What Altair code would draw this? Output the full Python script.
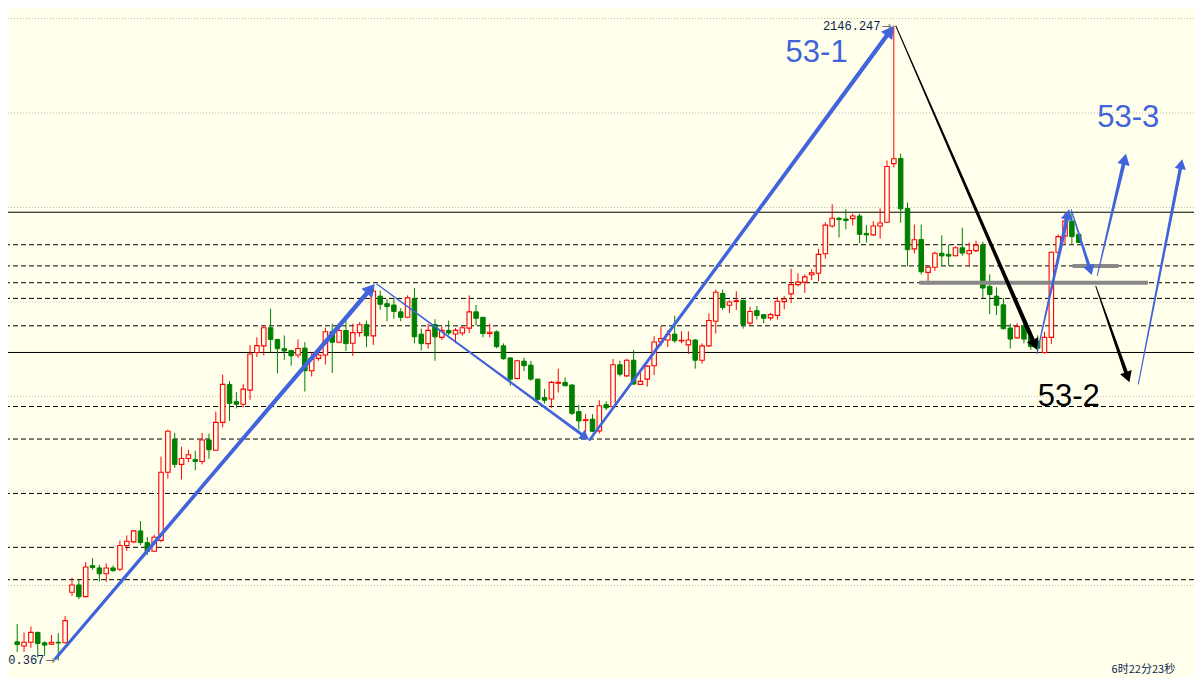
import altair as alt
import pandas as pd
import numpy as np

# ---------------- data ----------------
OPEN = [1820.2, 1818.0, 1820.0, 1825.2, 1819.7, 1819.0, 1820.0, 1819.7, 1846.4, 1850.3,
        1844.1, 1860.5, 1859.3, 1856.2, 1859.3, 1858.6, 1871.2, 1873.1, 1878.9, 1872.7,
        1868.1, 1873.9, 1909.9, 1927.3, 1914.1, 1917.2, 1916.7, 1915.6, 1927.0, 1921.6,
        1936.3, 1956.4, 1947.3, 1945.9, 1953.4, 1973.3, 1976.8, 1986.4, 1980.2, 1975.3,
        1974.3, 1972.0, 1975.6, 1963.6, 1970.2, 1972.0, 1984.3, 1978.7, 1984.9, 1978.2,
        1983.8, 1988.0, 1982.1, 2003.1, 1999.1, 1998.4, 1994.8, 1991.9, 2001.9, 1983.0,
        1978.0, 1988.1, 1981.3, 1985.0, 1983.1, 1983.6, 1986.2, 1994.8, 1991.9, 1983.3,
        1984.2, 1976.8, 1970.4, 1959.5, 1968.7, 1966.6, 1959.2, 1949.4, 1948.7, 1957.0,
        1957.5, 1956.1, 1942.0, 1937.3, 1938.0, 1931.8, 1945.7, 1944.6, 1966.8, 1960.9,
        1969.2, 1956.4, 1959.2, 1966.3, 1979.0, 1979.9, 1983.0, 1979.4, 1977.3, 1979.9,
        1969.2, 1976.8, 1989.8, 2004.5, 1998.3, 2000.3, 2000.9, 1988.8, 1995.4, 1993.3,
        1991.6, 1992.9, 2000.2, 2004.3, 2009.2, 2010.5, 2014.4, 2015.2, 2025.5, 2040.2,
        2044.3, 2043.9, 2044.1, 2045.5, 2036.3, 2035.5, 2040.2, 2042.2, 2073.2, 2075.9,
        2049.5, 2028.1, 2033.1, 2015.7, 2018.4, 2025.8, 2025.2, 2024.5, 2028.7, 2025.5,
        2027.2, 2030.1, 2008.3, 2003.1, 1998.5, 1986.2, 1981.0, 1987.1, 1981.6, 1979.3,
        1973.3, 1981.3, 2026.3, 2035.0, 2042.8, 2035.8]
HIGH = [1829.6, 1825.2, 1828.3, 1825.6, 1820.5, 1823.8, 1824.8, 1833.8, 1854.1, 1852.9,
        1862.4, 1864.5, 1861.0, 1861.7, 1860.6, 1873.8, 1876.5, 1879.2, 1884.1, 1875.6,
        1876.9, 1918.2, 1932.5, 1930.8, 1923.4, 1921.8, 1921.3, 1930.8, 1930.4, 1942.0,
        1961.6, 1958.2, 1952.3, 1956.6, 1977.1, 1981.3, 1987.6, 1996.4, 1980.5, 1982.3,
        1974.7, 1980.2, 1978.8, 1973.3, 1973.3, 1986.4, 1988.5, 1986.4, 1990.6, 1988.5,
        1989.3, 1990.2, 2007.4, 2006.1, 2001.7, 2001.7, 1996.8, 2003.5, 2007.4, 1985.9,
        1988.5, 1990.9, 1987.1, 1990.2, 1986.2, 1987.1, 2003.5, 1998.5, 1992.2, 1988.5,
        1985.0, 1978.1, 1970.7, 1969.4, 1970.5, 1968.9, 1959.5, 1954.0, 1958.2, 1964.7,
        1960.1, 1956.4, 1945.7, 1940.7, 1940.6, 1948.0, 1947.5, 1969.9, 1968.9, 1969.9,
        1974.7, 1962.7, 1966.6, 1981.9, 1987.1, 1985.0, 1992.8, 1984.5, 1984.5, 1980.4,
        1978.1, 1994.0, 2006.6, 2006.6, 2000.9, 2005.7, 2001.2, 1997.4, 1997.9, 1993.5,
        1994.2, 2002.6, 2003.1, 2017.6, 2015.2, 2014.6, 2017.4, 2028.1, 2042.2, 2051.7,
        2045.0, 2049.1, 2046.7, 2046.7, 2040.7, 2042.8, 2049.5, 2074.9, 2146.247, 2078.5,
        2052.6, 2041.0, 2041.0, 2019.1, 2026.7, 2035.3, 2030.2, 2029.5, 2039.3, 2031.5,
        2032.4, 2031.9, 2014.6, 2007.8, 2002.2, 1988.5, 1988.8, 1988.8, 1984.5, 1982.4,
        1984.2, 2026.7, 2035.8, 2047.0, 2047.9, 2036.1]
LOW = [1814.9, 1814.9, 1817.1, 1811.9, 1812.8, 1818.5, 1810.367, 1819.3, 1844.6, 1842.8,
       1843.8, 1858.3, 1852.1, 1851.9, 1857.2, 1857.6, 1868.4, 1872.5, 1871.4, 1866.3,
       1867.8, 1872.9, 1906.6, 1912.3, 1906.1, 1915.3, 1911.0, 1914.1, 1917.0, 1921.3,
       1933.7, 1937.1, 1943.7, 1944.2, 1948.3, 1970.9, 1971.7, 1973.3, 1962.4, 1969.4,
       1966.3, 1970.4, 1952.6, 1960.6, 1968.9, 1966.9, 1962.4, 1978.1, 1974.1, 1971.5,
       1981.6, 1976.1, 1977.3, 1995.9, 1989.8, 1991.1, 1989.8, 1991.4, 1978.2, 1974.3,
       1975.3, 1968.9, 1979.9, 1982.4, 1978.2, 1982.2, 1983.6, 1987.6, 1981.3, 1981.3,
       1975.6, 1969.5, 1955.7, 1959.0, 1963.5, 1958.3, 1947.1, 1946.3, 1944.0, 1952.2,
       1955.4, 1940.2, 1932.5, 1931.3, 1931.1, 1930.4, 1942.8, 1944.0, 1960.6, 1960.4,
       1956.1, 1956.2, 1955.2, 1961.3, 1976.8, 1976.2, 1978.5, 1978.2, 1972.5, 1964.7,
       1967.4, 1976.4, 1983.3, 1995.8, 1994.2, 1995.8, 1985.9, 1987.6, 1990.7, 1988.8,
       1990.2, 1990.7, 1996.2, 1999.5, 2008.3, 2004.8, 2011.6, 2010.9, 2022.9, 2039.3,
       2034.1, 2038.4, 2040.5, 2031.2, 2031.5, 2035.0, 2033.5, 2041.9, 2071.2, 2041.9,
       2018.8, 2025.7, 2014.6, 2009.2, 2016.4, 2019.1, 2019.1, 2024.1, 2024.5, 2018.8,
       2026.4, 2002.2, 1993.6, 1993.1, 1985.4, 1975.3, 1980.7, 1978.1, 1974.7, 1973.3,
       1972.6, 1977.9, 2020.8, 2030.7, 2030.7, 2031.2]
CLOSE = [1818.8, 1820.0, 1825.2, 1819.3, 1818.5, 1820.0, 1819.6, 1831.4, 1850.3, 1844.1,
         1859.8, 1859.5, 1856.2, 1859.3, 1857.9, 1871.2, 1873.4, 1878.9, 1872.7, 1868.1,
         1875.5, 1909.9, 1931.6, 1914.1, 1917.2, 1919.2, 1915.6, 1927.0, 1921.8, 1936.3,
         1956.4, 1946.4, 1945.9, 1953.9, 1972.5, 1976.9, 1986.4, 1980.2, 1975.3, 1974.1,
         1971.5, 1975.4, 1963.6, 1969.9, 1972.0, 1984.3, 1978.7, 1984.9, 1978.0, 1983.8,
         1988.0, 1982.1, 2005.7, 1998.8, 1997.6, 1995.0, 1991.9, 2002.2, 1981.6, 1978.0,
         1985.0, 1981.6, 1985.0, 1983.6, 1985.0, 1986.4, 1994.8, 1991.4, 1983.3, 1984.0,
         1976.4, 1970.0, 1959.2, 1968.9, 1966.3, 1959.2, 1948.5, 1948.0, 1957.5, 1957.5,
         1955.7, 1941.1, 1937.1, 1937.7, 1931.6, 1945.1, 1944.0, 1966.8, 1961.8, 1969.2,
         1956.6, 1958.0, 1966.1, 1978.8, 1980.7, 1982.8, 1979.5, 1979.7, 1979.9, 1969.2,
         1976.8, 1990.2, 2005.2, 1997.1, 2000.0, 2000.7, 1988.1, 1995.0, 1992.9, 1991.4,
         1993.3, 2000.4, 2001.6, 2009.2, 2010.5, 2013.3, 2015.4, 2025.2, 2040.7, 2044.3,
         2043.6, 2043.1, 2045.5, 2035.8, 2035.5, 2040.2, 2041.8, 2071.7, 2075.8, 2049.3,
         2027.7, 2032.9, 2016.0, 2018.4, 2025.8, 2024.4, 2024.3, 2028.7, 2025.9, 2027.2,
         2030.1, 2007.4, 2004.0, 1998.3, 1985.9, 1980.4, 1987.1, 1980.4, 1976.4, 1975.6,
         1981.3, 2026.3, 2034.6, 2042.8, 2034.6, 2031.5]

GRID_LEVELS = [2150, 2100, 2050, 2000, 1950, 1900, 1850]
SOLID_LEVELS = [2047.5, 1973.3]
DASHED_LEVELS = [2030.3, 2019.1, 2010.2, 2001.9, 1987.4, 1944.7, 1927.5, 1898.7, 1870.2, 1853.1]

ZONE_X0 = [131.7, 154.1]
ZONE_X1 = [165.1, 160.8]
ZONE_Y = [2010.2, 2019.0]

ARROW_X0 = [5.6, 52.5, 83.6, 128.3, 148.9, 153.9, 157.7, 157.5, 163.7]
ARROW_Y0 = [1811.4, 2009.5, 1927.1, 2146.0, 1972.7, 2049.0, 2014.0, 2008.3, 1956.6]
ARROW_X1 = [52.2, 83.5, 128.0, 148.9, 153.6, 156.9, 161.9, 162.4, 170.1]
ARROW_Y1 = [2009.5, 1927.1, 2146.0, 1974.7, 2049.1, 2014.3, 2078.4, 1957.6, 2075.5]
ARROW_KIND = ["blue", "blue", "blue", "black", "blue", "blue", "blue", "black", "blue"]

WAVE_LABELS = ["53-1", "53-3", "53-2"]
WAVE_X = [112.2, 157.7, 149.0]
WAVE_Y = [2127.2, 2092.5, 1945.2]
WAVE_KIND = ["blue", "blue", "black"]

PRICE_LABELS = ["2146.247", "1810.367"]
PRICE_X = [126.2, 4.1]
PRICE_Y = [2146.247, 1810.367]

CLOCK_TEXT = "6时22分23秒"
CLOCK_X = 159.8
CLOCK_Y = 1808.5

# ---------------- style ----------------
BG = "#FFFFEB"
RED = "#FF0000"
GREEN = "#008000"
BLUE = "#4163DB"
W, H = 1186, 670
XDOM = [-0.614, 171.1]
YDOM = [1801.07, 2155.55]
COLORS = {"blue": BLUE, "black": "#000000"}
ARROW_W0 = [3.0, 1.2, 2.5, 1.0, 1.0, 1.0, 1.0, 1.0, 1.0]
ARROW_W1 = [4.5, 3.0, 4.5, 4.5, 4.0, 3.5, 4.0, 4.0, 3.5]
HEAD_SIZE = [200, 120, 200, 160, 150, 130, 160, 150, 130]

xs = alt.Scale(domain=XDOM, nice=False, zero=False)
ys = alt.Scale(domain=YDOM, nice=False, zero=False)
sx = W / (XDOM[1] - XDOM[0])
sy = H / (YDOM[1] - YDOM[0])

df = pd.DataFrame({"i": np.arange(len(OPEN)), "o": OPEN, "h": HIGH, "l": LOW, "c": CLOSE})
df["dir"] = np.where(df.c >= df.o, "up", "down")
df["top"] = df[["o", "c"]].max(axis=1)
df["bot"] = df[["o", "c"]].min(axis=1)

X = lambda f: alt.X(f, type="quantitative", scale=xs, axis=None)
Y = lambda f: alt.Y(f, type="quantitative", scale=ys, axis=None)

grid = alt.Chart(pd.DataFrame({"y": GRID_LEVELS})).mark_rule(
    color="#BDBDBD", strokeWidth=1, strokeDash=[1, 2]).encode(y=Y("y"))
solid = alt.Chart(pd.DataFrame({"y": SOLID_LEVELS})).mark_rule(
    color="#000000", strokeWidth=1).encode(y=Y("y"))
dashed = alt.Chart(pd.DataFrame({"y": DASHED_LEVELS})).mark_rule(
    color="#000000", strokeWidth=1, strokeDash=[5, 3]).encode(y=Y("y"))

wicks = alt.Chart(df).mark_rule(strokeWidth=1).encode(
    x=X("i"), y=Y("l"), y2="h",
    color=alt.Color("dir:N", scale=alt.Scale(domain=["up", "down"], range=[RED, GREEN]), legend=None))
up_bodies = alt.Chart(df[df.dir == "up"]).mark_bar(
    size=4.5, fill=BG, stroke=RED, strokeWidth=1.1).encode(x=X("i"), y=Y("bot"), y2="top")
dn_bodies = alt.Chart(df[df.dir == "down"]).mark_bar(
    size=4.5, fill=GREEN, stroke=GREEN, strokeWidth=1).encode(x=X("i"), y=Y("bot"), y2="top")

zones = alt.Chart(pd.DataFrame({"x0": ZONE_X0, "x1": ZONE_X1, "y": ZONE_Y})).mark_rule(
    color="#888888", strokeWidth=4).encode(x=X("x0"), x2="x1", y=Y("y"))

# arrows: tapered trail + triangular head
trail_rows, head_rows = [], []
for k in range(len(ARROW_X0)):
    dxp = (ARROW_X1[k] - ARROW_X0[k]) * sx
    dyp = -(ARROW_Y1[k] - ARROW_Y0[k]) * sy
    L = np.hypot(dxp, dyp)
    ux, uy = dxp / L, dyp / L
    hh = np.sqrt(3) / 4 * np.sqrt(HEAD_SIZE[k])
    cx = ARROW_X1[k] - ux * hh / sx
    cy = ARROW_Y1[k] + uy * hh / sy
    col = COLORS[ARROW_KIND[k]]
    trail_rows.append({"a": k, "ord": 0, "x": ARROW_X0[k], "y": ARROW_Y0[k], "w": ARROW_W0[k], "col": col})
    trail_rows.append({"a": k, "ord": 1, "x": cx, "y": cy, "w": ARROW_W1[k], "col": col})
    ang = np.degrees(np.arctan2(ux, -uy)) % 360
    head_rows.append({"x": cx, "y": cy, "ang": float(ang), "s": HEAD_SIZE[k], "col": col})

trails = alt.Chart(pd.DataFrame(trail_rows)).mark_trail().encode(
    x=X("x"), y=Y("y"), detail="a:N", order="ord:Q",
    size=alt.Size("w:Q", scale=None), color=alt.Color("col:N", scale=None))
heads = alt.Chart(pd.DataFrame(head_rows)).mark_point(
    shape="triangle-up", filled=True, opacity=1, strokeWidth=0).encode(
    x=X("x"), y=Y("y"), size=alt.Size("s:Q", scale=None),
    angle=alt.Angle("ang:Q", scale=None), color=alt.Color("col:N", scale=None))

waves = alt.Chart(pd.DataFrame({"t": WAVE_LABELS, "x": WAVE_X, "y": WAVE_Y,
                                "col": [COLORS[k] for k in WAVE_KIND]})).mark_text(
    align="left", baseline="alphabetic", font="Liberation Sans", fontSize=31).encode(
    x=X("x"), y=Y("y"), text="t:N", color=alt.Color("col:N", scale=None))

price_txt = alt.Chart(pd.DataFrame({"t": PRICE_LABELS, "x": PRICE_X, "y": PRICE_Y})).mark_text(
    align="right", baseline="middle", font="Liberation Mono", fontSize=12, color="#0B1F4F", dx=-1).encode(
    x=X("x"), y=Y("y"), text="t:N")
price_arrow = alt.Chart(pd.DataFrame({"x": PRICE_X, "y": PRICE_Y})).mark_text(
    align="left", baseline="middle", font="DejaVu Sans", fontSize=12, color="#707070", text="→").encode(
    x=X("x"), y=Y("y"))

clock = alt.Chart(pd.DataFrame({"t": [CLOCK_TEXT], "x": [CLOCK_X], "y": [CLOCK_Y]})).mark_text(
    align="left", baseline="top", font="Noto Sans CJK SC", fontSize=11, color="#0B1F4F").encode(
    x=X("x"), y=Y("y"), text="t:N")

chart = alt.layer(grid, solid, dashed, wicks, up_bodies, dn_bodies, zones,
                  trails, heads, waves, price_txt, price_arrow, clock).properties(
    width=W, height=H, background=BG, padding=0,
    autosize=alt.AutoSizeParams(type="none")).configure_view(stroke=None)

chart.save("out.html", embed_options={"renderer": "svg", "actions": False})
